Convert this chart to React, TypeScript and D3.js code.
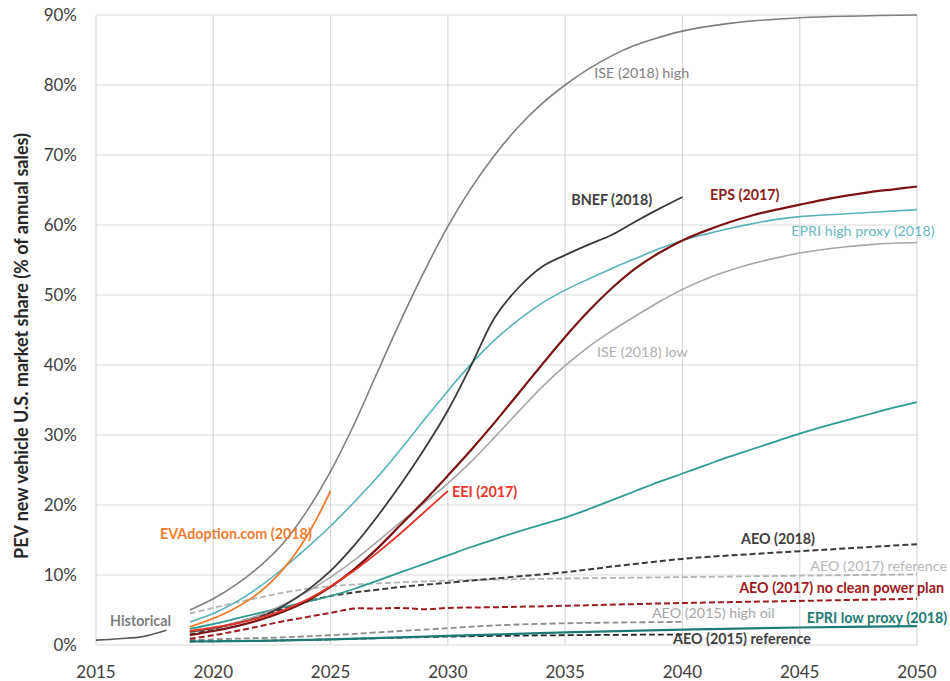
import * as React from 'react';
import * as d3 from 'd3';

// PEV share of annual US new vehicle sales, percent
const historical: [number, number][] = [[2015, 0.7], [2016, 0.9], [2017, 1.2], [2018, 2.1]];

const iseHigh: [number, number][] = [
  [2019, 5.0], [2020, 6.6], [2021, 8.7], [2022, 11.3], [2023, 14.6], [2024, 19.2], [2025, 24.8],
  [2026, 31.5], [2027, 39], [2028, 46.4], [2029, 53.4], [2030, 59.8], [2031, 65.3], [2032, 70],
  [2033, 74], [2034, 77.3], [2035, 80], [2036, 82.3], [2037, 84.2], [2038, 85.7], [2039, 86.8],
  [2040, 87.7], [2042, 88.8], [2045, 89.6], [2050, 90]
];

const evAdoption: [number, number][] = [
  [2019, 2.6], [2020, 3.8], [2021, 5.4], [2022, 7.6], [2023, 10.9], [2024, 15.6], [2025, 22]
];

const epriHigh: [number, number][] = [
  [2019, 3.3], [2020, 4.5], [2021, 6.2], [2022, 8.4], [2023, 11.0], [2024, 13.9], [2025, 17.0],
  [2026, 20.4], [2027, 24.0], [2028, 28.0], [2029, 32.2], [2030, 36.3], [2031, 40.2], [2032, 43.6],
  [2033, 46.4], [2034, 48.8], [2035, 50.7], [2036, 52.3], [2037, 53.8], [2038, 55.2], [2039, 56.6],
  [2040, 57.8], [2041, 58.7], [2042, 59.5], [2043, 60.2], [2044, 60.8], [2045, 61.2], [2047, 61.6],
  [2050, 62.2]
];

const bnef: [number, number][] = [
  [2019, 1.9], [2020, 2.4], [2021, 3.1], [2022, 4.0], [2023, 5.6], [2024, 7.8], [2025, 10.6],
  [2026, 14.2], [2027, 18.4], [2028, 23], [2029, 28], [2030, 33.5], [2031, 40], [2032, 46.8],
  [2033, 51], [2034, 54], [2035, 55.7], [2036, 57.2], [2037, 58.6], [2038, 60.5], [2039, 62.3],
  [2040, 64]
];

const eps: [number, number][] = [
  [2019, 1.4], [2020, 2.0], [2021, 2.7], [2022, 3.6], [2023, 4.8], [2024, 6.3], [2025, 8.3],
  [2026, 10.8], [2027, 13.8], [2028, 17.2], [2029, 20.6], [2030, 24.2], [2031, 27.9], [2032, 31.8],
  [2033, 35.9], [2034, 40], [2035, 44], [2036, 47.7], [2037, 51], [2038, 53.8], [2039, 56],
  [2040, 57.8], [2041, 59.2], [2042, 60.4], [2043, 61.4], [2044, 62.2], [2045, 62.9], [2046, 63.6],
  [2047, 64.2], [2048, 64.7], [2049, 65.1], [2050, 65.5]
];

const eei: [number, number][] = [
  [2019, 2.0], [2020, 2.5], [2021, 3.1], [2022, 3.9], [2023, 5.0], [2024, 6.5], [2025, 8.4],
  [2026, 10.6], [2027, 13.2], [2028, 16.0], [2029, 19.0], [2030, 22.0]
];

const iseLow: [number, number][] = [
  [2019, 1.8], [2020, 2.4], [2021, 3.2], [2022, 4.3], [2023, 5.8], [2024, 7.6], [2025, 9.7],
  [2026, 12.1], [2027, 14.8], [2028, 17.6], [2029, 20.3], [2030, 23.1], [2031, 26.2], [2032, 29.7],
  [2033, 33.3], [2034, 36.8], [2035, 39.9], [2036, 42.6], [2037, 44.9], [2038, 47], [2039, 49],
  [2040, 50.8], [2041, 52.3], [2042, 53.5], [2043, 54.5], [2044, 55.3], [2045, 56], [2046, 56.5],
  [2047, 56.9], [2048, 57.2], [2049, 57.4], [2050, 57.5]
];

const epriMid: [number, number][] = [
  [2019, 2.3], [2020, 3.0], [2021, 3.8], [2022, 4.6], [2023, 5.4], [2024, 6.2], [2025, 7.0],
  [2026, 8.0], [2027, 9.2], [2028, 10.4], [2029, 11.6], [2030, 12.8], [2031, 14.0], [2032, 15.1],
  [2033, 16.2], [2034, 17.2], [2035, 18.2], [2036, 19.4], [2037, 20.7], [2038, 22.0], [2039, 23.3],
  [2040, 24.5], [2041, 25.7], [2042, 26.9], [2043, 28.0], [2044, 29.1], [2045, 30.2], [2046, 31.2],
  [2047, 32.1], [2048, 33.0], [2049, 33.9], [2050, 34.7]
];

const aeo2018: [number, number][] = [
  [2019, 1.5], [2020, 2.3], [2021, 3.2], [2022, 4.2], [2023, 5.2], [2024, 6.2], [2025, 7.0],
  [2026, 7.5], [2027, 7.9], [2028, 8.3], [2029, 8.6], [2030, 8.9], [2032, 9.5], [2035, 10.4],
  [2037, 11.2], [2040, 12.3], [2043, 13.0], [2045, 13.4], [2047, 13.8], [2050, 14.4]
];

const aeo2017Ref: [number, number][] = [
  [2019, 4.5], [2020, 5.3], [2021, 6.1], [2022, 6.8], [2023, 7.5], [2024, 8.0], [2025, 8.4],
  [2027, 8.8], [2030, 9.2], [2035, 9.5], [2040, 9.7], [2045, 9.9], [2050, 10.1]
];

const aeo2017NoCpp: [number, number][] = [
  [2019, 0.9], [2020, 1.4], [2021, 2.0], [2022, 2.7], [2023, 3.4], [2024, 4.0], [2025, 4.6],
  [2026, 5.2], [2027, 5.2], [2028, 5.3], [2029, 5.1], [2030, 5.3], [2032, 5.4], [2035, 5.6],
  [2040, 6.0], [2045, 6.3], [2050, 6.6]
];

const aeo2015HighOil: [number, number][] = [
  [2019, 0.7], [2021, 0.9], [2023, 1.1], [2025, 1.4], [2027, 1.8], [2030, 2.4], [2032, 2.8],
  [2035, 3.1], [2037, 3.2], [2040, 3.3]
];

const aeo2015Ref: [number, number][] = [
  [2019, 0.5], [2022, 0.6], [2025, 0.8], [2030, 1.2], [2035, 1.4], [2040, 1.5]
];

const epriLow: [number, number][] = [
  [2019, 0.5], [2022, 0.6], [2025, 0.8], [2030, 1.3], [2035, 1.8], [2040, 2.2], [2045, 2.5],
  [2050, 2.7]
];

const xTicks = [2015, 2020, 2025, 2030, 2035, 2040, 2045, 2050];
const yTicks = [0, 10, 20, 30, 40, 50, 60, 70, 80, 90];

interface SeriesStyle {
  data: [number, number][];
  color: string;
  width: number;
  dash?: string;
}

const series: SeriesStyle[] = [
  { data: aeo2017Ref, color: '#b3b3b3', width: 1.8, dash: '6,3' },
  { data: aeo2015HighOil, color: '#8c8c8c', width: 1.8, dash: '6,3' },
  { data: aeo2015Ref, color: '#262626', width: 1.8, dash: '6,3' },
  { data: epriLow, color: '#1f7a75', width: 2.2 },
  { data: aeo2017NoCpp, color: '#9b1c20', width: 2, dash: '6,3' },
  { data: aeo2018, color: '#3a3a3a', width: 2, dash: '6,3' },
  { data: epriMid, color: '#2f9b92', width: 1.8 },
  { data: historical, color: '#595959', width: 1.6 },
  { data: iseHigh, color: '#7f7f7f', width: 1.6 },
  { data: iseLow, color: '#a6a6a6', width: 1.6 },
  { data: epriHigh, color: '#5ab2b8', width: 1.6 },
  { data: evAdoption, color: '#ee7d31', width: 1.8 },
  { data: bnef, color: '#3a3a3a', width: 1.8 },
  { data: eps, color: '#7a1414', width: 2.2 },
  { data: eei, color: '#e8352b', width: 1.8 }
];

// annotation text anchored at (year, share)
const labels = [
  { text: 'Historical', year: 2015.6, value: 3.4, color: '#808080', bold: true },
  { text: 'EVAdoption.com (2018)', year: 2017.73, value: 15.9, color: '#ee7d31', bold: true },
  { text: 'EEI (2017)', year: 2030.18, value: 21.9, color: '#e8352b', bold: true },
  { text: 'ISE (2018) high', year: 2036.24, value: 81.7, color: '#7f7f7f', bold: false },
  { text: 'BNEF (2018)', year: 2035.26, value: 63.6, color: '#404040', bold: true },
  { text: 'EPS (2017)', year: 2041.18, value: 64.3, color: '#8b1a1a', bold: true },
  { text: 'EPRI high proxy (2018)', year: 2044.64, value: 59.1, color: '#6ab9be', bold: false },
  { text: 'ISE (2018) low', year: 2036.36, value: 41.9, color: '#b0b0b0', bold: false },
  { text: 'AEO (2018)', year: 2042.5, value: 15.1, color: '#404040', bold: true },
  { text: 'AEO (2017) reference', year: 2045.45, value: 11.3, color: '#b8b8b8', bold: false },
  { text: 'AEO (2017) no clean power plan', year: 2042.42, value: 8.1, color: '#a01820', bold: true },
  { text: 'AEO (2015) high oil', year: 2038.7, value: 4.6, color: '#a6a6a6', bold: false },
  { text: 'EPRI low proxy (2018)', year: 2045.3, value: 3.9, color: '#1f7a75', bold: true },
  { text: 'AEO (2015) reference', year: 2039.6, value: 0.9, color: '#404040', bold: true }
];

const WIDTH = 950, HEIGHT = 681;
const FONT = 'Lato, "Open Sans", sans-serif';

export default function App() {
  const svgRef = React.useRef<SVGSVGElement>(null);

  React.useEffect(() => {
    const svg = d3.select(svgRef.current);
    svg.selectAll('*').remove();

    const x = d3.scaleLinear().domain([2015, 2050]).range([96, 917]);
    const y = d3.scaleLinear().domain([0, 90]).range([645, 15]);

    const grid = svg.append('g');
    grid.selectAll('line.h')
      .data(yTicks)
      .enter()
      .append('line')
      .attr('x1', x(2015)).attr('x2', x(2050))
      .attr('y1', d => y(d)).attr('y2', d => y(d))
      .attr('stroke', '#d9d9d9').attr('stroke-width', 1.2);
    grid.selectAll('line.v')
      .data(xTicks)
      .enter()
      .append('line')
      .attr('y1', y(0)).attr('y2', y(90))
      .attr('x1', d => x(d)).attr('x2', d => x(d))
      .attr('stroke', '#d9d9d9').attr('stroke-width', 1.2);

    svg.append('g')
      .selectAll('text')
      .data(yTicks)
      .enter()
      .append('text')
      .attr('x', 77)
      .attr('y', d => y(d))
      .attr('dy', '0.35em')
      .attr('text-anchor', 'end')
      .attr('font-family', FONT)
      .attr('font-size', 17)
      .attr('fill', '#404040')
      .text(d => `${d}%`);

    svg.append('g')
      .selectAll('text')
      .data(xTicks)
      .enter()
      .append('text')
      .attr('x', d => x(d))
      .attr('y', 672)
      .attr('dy', '0.35em')
      .attr('text-anchor', 'middle')
      .attr('font-family', FONT)
      .attr('font-size', 17)
      .attr('fill', '#404040')
      .text(d => String(d));

    svg.append('text')
      .attr('transform', 'translate(22, 346) rotate(-90)')
      .attr('dy', '0.35em')
      .attr('text-anchor', 'middle')
      .attr('font-family', FONT)
      .attr('font-weight', 'bold')
      .attr('font-size', 18)
      .attr('fill', '#262626')
      .text('PEV new vehicle U.S. market share (% of annual sales)');

    const line = d3.line<[number, number]>()
      .x(d => x(d[0]))
      .y(d => y(d[1]))
      .curve(d3.curveCatmullRom.alpha(0.5));

    svg.append('g')
      .selectAll('path')
      .data(series)
      .enter()
      .append('path')
      .attr('d', d => line(d.data))
      .attr('fill', 'none')
      .attr('stroke', d => d.color)
      .attr('stroke-width', d => d.width)
      .attr('stroke-dasharray', d => d.dash || null);

    svg.append('g')
      .selectAll('text')
      .data(labels)
      .enter()
      .append('text')
      .attr('x', d => x(d.year))
      .attr('y', d => y(d.value))
      .attr('dy', '0.35em')
      .attr('font-family', FONT)
      .attr('font-size', 14.3)
      .attr('font-weight', d => (d.bold ? 'bold' : 'normal'))
      .attr('fill', d => d.color)
      .text(d => d.text);
  }, []);

  return (
    <svg
      ref={svgRef}
      width={WIDTH}
      height={HEIGHT}
      style={{ position: 'absolute', left: 0, top: 0, background: '#fff' }}
    />
  );
}
